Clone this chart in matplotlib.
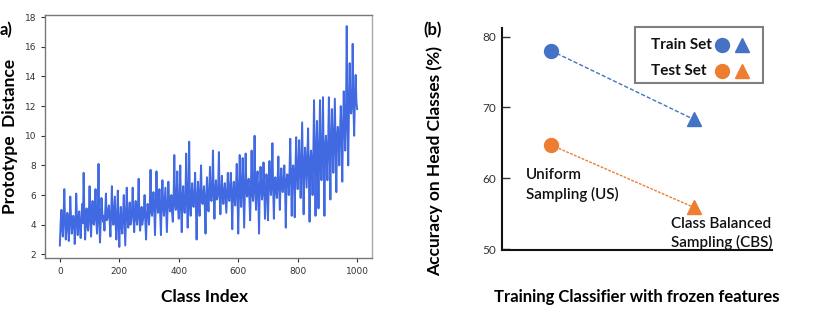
import matplotlib
matplotlib.use("Agg")
import matplotlib.pyplot as plt
from matplotlib.patches import Rectangle
import numpy as np

# ---------------- data ----------------
# (a) prototype distance, read every 2.5 classes (0 .. 1000)
proto_dist = [
    2.6, 4.1, 5.0, 3.8, 3.2, 4.6, 6.4, 4.2, 3.0, 3.7, 4.8, 4.4, 2.9, 4.0, 5.9, 4.5, 3.4, 3.9, 4.6, 4.3,
    2.7, 4.0, 6.1, 4.5, 3.3, 4.2, 4.9, 3.8, 3.1, 4.4, 5.4, 4.1, 7.5, 4.6, 3.0, 4.3, 5.1, 3.9, 3.6, 4.7,
    6.6, 4.4, 3.2, 4.8, 5.6, 4.1, 4.0, 5.0, 6.4, 4.3, 3.4, 4.7, 8.1, 4.5, 2.8, 4.2, 5.8, 4.9, 4.2, 4.6,
    3.6, 4.8, 6.1, 4.3, 4.4, 5.0, 5.3, 4.2, 3.2, 4.7, 6.6, 4.5, 4.0, 4.9, 5.9, 4.1, 3.0, 4.4, 6.3, 4.0,
    2.5, 4.3, 5.2, 3.9, 3.4, 4.6, 6.0, 4.2, 2.6, 4.5, 6.5, 4.7, 3.8, 4.4, 5.5, 4.0, 4.2, 4.9, 6.5, 4.6,
    3.5, 4.8, 5.6, 4.4, 4.0, 5.1, 7.1, 4.5, 3.6, 4.3, 5.2, 4.0, 4.4, 4.8, 6.0, 4.2, 3.0, 4.6, 5.4, 4.9,
    4.0, 5.2, 7.7, 4.9, 4.6, 5.5, 6.2, 5.0, 3.3, 5.3, 7.6, 5.6, 4.8, 5.1, 6.4, 4.7, 3.3, 5.4, 7.0, 5.2,
    4.6, 5.5, 6.5, 5.0, 3.5, 5.3, 6.9, 5.6, 4.9, 5.2, 6.0, 4.8, 4.2, 5.7, 8.7, 5.4, 5.0, 5.8, 7.6, 5.1,
    4.4, 5.6, 8.0, 5.3, 3.5, 5.8, 6.6, 5.2, 4.8, 5.9, 8.8, 5.5, 3.8, 5.7, 9.6, 5.4, 4.6, 6.0, 6.8, 5.3,
    5.2, 6.1, 7.5, 5.4, 3.0, 5.8, 6.9, 5.5, 4.6, 6.2, 8.0, 5.7, 5.4, 6.0, 6.6, 5.2, 3.4, 5.9, 7.2, 5.6,
    4.9, 6.2, 7.9, 5.8, 5.6, 6.4, 9.0, 6.0, 4.4, 6.3, 7.0, 5.7, 5.8, 6.5, 8.9, 5.9, 4.7, 6.1, 7.3, 6.0,
    5.4, 6.3, 6.8, 5.8, 4.8, 6.1, 7.5, 6.0, 5.6, 6.4, 7.5, 5.9, 3.7, 6.2, 6.9, 5.7, 5.3, 6.5, 8.1, 6.1,
    3.4, 6.0, 8.7, 6.4, 5.2, 6.7, 8.5, 6.1, 3.8, 6.5, 8.8, 6.3, 5.9, 6.6, 7.1, 5.8, 4.3, 6.4, 9.0, 6.2,
    5.6, 6.6, 10.0, 6.3, 5.0, 6.8, 7.6, 6.0, 3.4, 6.4, 7.9, 6.7, 5.7, 6.2, 8.2, 6.5, 4.4, 6.1, 7.4, 6.6,
    4.3, 6.5, 8.3, 6.8, 6.0, 7.0, 9.5, 6.4, 4.4, 6.7, 7.2, 6.3, 5.8, 6.9, 8.6, 6.6, 5.0, 6.8, 7.8, 6.5,
    6.2, 7.0, 8.0, 6.6, 3.8, 6.9, 7.4, 7.2, 6.0, 7.5, 9.8, 7.1, 4.6, 7.6, 8.0, 7.3, 4.5, 7.8, 9.9, 7.4,
    6.4, 7.9, 9.7, 7.5, 5.8, 8.2, 10.9, 7.7, 4.7, 8.0, 9.2, 7.8, 6.5, 8.4, 10.5, 7.6, 4.2, 8.3, 9.0, 8.1,
    6.0, 8.6, 12.4, 8.2, 4.6, 8.8, 11.0, 8.4, 5.1, 8.9, 12.4, 8.5, 7.0, 9.0, 12.6, 8.7, 4.6, 9.2, 10.0, 8.8,
    7.0, 9.4, 12.6, 9.0, 5.7, 9.6, 11.8, 9.3, 7.5, 9.9, 12.5, 9.5, 6.2, 10.0, 10.6, 9.7, 8.0, 10.3, 12.0, 10.1,
    6.9, 10.5, 13.0, 10.8, 9.0, 11.5, 17.4, 11.2, 8.0, 11.8, 14.9, 11.6, 11.5, 12.2, 16.2, 12.0, 10.0, 12.5, 14.1, 12.3,
    11.8,
]
class_index = np.linspace(0, 1000, len(proto_dist))

# (b) accuracy on head classes
methods = ["Uniform\nSampling (US)", "Class Balanced\nSampling (CBS)"]
train_acc = [78.0, 68.3]
test_acc = [64.7, 55.9]
legend_labels = ["Train Set", "Test Set"]

BLUE = "#4472C4"
ORANGE = "#ED7D31"
FONT = "Lato"

fig = plt.figure(figsize=(8.31, 3.12), dpi=100)

# ---------------- panel (a) ----------------
ax1 = fig.add_axes([45 / 831, 1 - 258 / 312, (372 - 45) / 831, (258 - 15) / 312])
ax1.plot(class_index, proto_dist, color="#4169E1", lw=1.4)
ax1.set_xticks([0, 200, 400, 600, 800, 1000])
ax1.set_yticks(range(2, 19, 2))
ax1.tick_params(labelsize=6.5, colors="#333333", length=3, width=0.8)
for s in ax1.spines.values():
    s.set_color("#777777")
    s.set_linewidth(1.0)
ax1.spines["right"].set_color("#aaaaaa")

fig.text(0.012, 1 - 136 / 312, "Prototype  Distance", rotation=90,
         ha="center", va="center", fontsize=12.5, fontweight="bold", family=FONT)
fig.text(205 / 831, 1 - 297 / 312, "Class Index", ha="center", va="center",
         fontsize=12.5, fontweight="bold", family=FONT)
fig.text(0.0, 1 - 30 / 312, "a)", ha="left", va="center", fontsize=12,
         fontweight="bold", family=FONT)

# ---------------- panel (b) ----------------
ax2 = fig.add_axes([502 / 831, 1 - 250 / 312, (772 - 502) / 831, (250 - 28) / 312])
xpos = [0, 1]
ax2.plot(xpos, train_acc, ls="--", color=BLUE, lw=1.0, dashes=(3, 1.5))
ax2.plot(xpos, test_acc, ls="--", color=ORANGE, lw=1.0, dashes=(2, 1))
ax2.plot(xpos[0], train_acc[0], "o", color=BLUE, ms=10)
ax2.plot(xpos[1], train_acc[1], "^", color=BLUE, ms=10)
ax2.plot(xpos[0], test_acc[0], "o", color=ORANGE, ms=10)
ax2.plot(xpos[1], test_acc[1], "^", color=ORANGE, ms=10)
ax2.set_xlim(-0.343, 1.545)
ax2.set_ylim(49.9, 81.2)
ax2.set_yticks([50, 60, 70, 80])
ax2.set_xticks([])
ax2.tick_params(axis="y", direction="in", length=6, width=1.0, labelsize=8.5,
                colors="#333333", pad=4)
for lbl in ax2.get_yticklabels():
    lbl.set_family(FONT)
ax2.spines["top"].set_visible(False)
ax2.spines["right"].set_visible(False)
for s in ["left", "bottom"]:
    ax2.spines[s].set_color("#111111")
    ax2.spines[s].set_linewidth(1.5)

ax2.text(-0.175, 61.4, methods[0], ha="left", va="top", fontsize=11,
         fontweight="semibold", family=FONT, linespacing=1.35, color="#111111")
ax2.text(0.839, 54.6, methods[1], ha="left", va="top", fontsize=11,
         fontweight="semibold", family=FONT, linespacing=1.35, color="#111111")

# legend box
ax2.add_patch(Rectangle((0.587, 73.5), 1.483 - 0.587, 81.3 - 73.5, fill=False,
                        ec="#7f7f7f", lw=1.5, clip_on=False))
rows_y = [78.84, 75.2]
for lab, yy, col in zip(legend_labels, rows_y, [BLUE, ORANGE]):
    ax2.text(0.699, yy, lab, ha="left", va="center", fontsize=11,
             fontweight="bold", family=FONT, color="#111111")
    ax2.plot(1.196, yy, "o", color=col, ms=10, clip_on=False)
    ax2.plot(1.336, yy, "^", color=col, ms=10, clip_on=False)

fig.text(435 / 831, 1 - 161 / 312, "Accuracy on Head Classes (%)", rotation=90,
         ha="center", va="center", fontsize=12.5, fontweight="bold", family=FONT)
fig.text(637 / 831, 1 - 297 / 312, "Training Classifier with frozen features",
         ha="center", va="center", fontsize=12, fontweight="bold", family=FONT)
fig.text(433 / 831, 1 - 30 / 312, "(b)", ha="center", va="center", fontsize=12,
         fontweight="bold", family=FONT)

fig.savefig("out.png", dpi=100)
